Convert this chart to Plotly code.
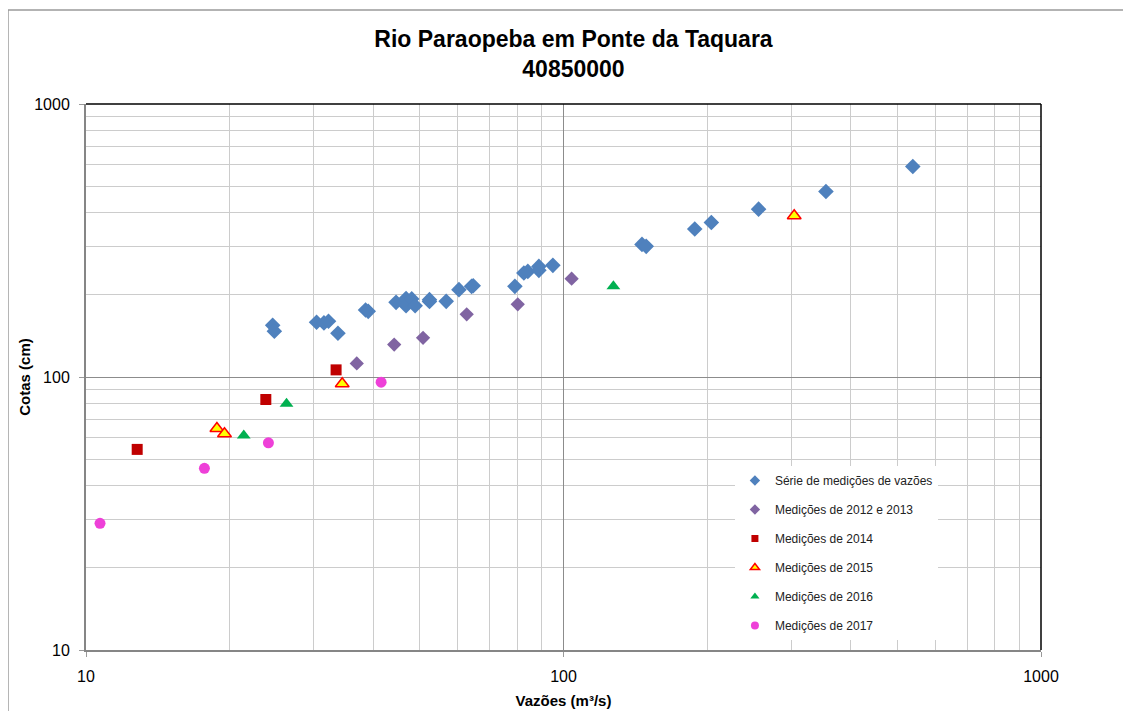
import plotly.graph_objects as go

# Série de medições de vazões
serie_q = [24.6, 24.8, 30.4, 31.5, 32.2, 33.7, 38.5, 39.0, 44.6, 46.8, 46.8, 48.1, 48.9,
           52.4, 52.4, 56.8, 60.4, 64.2, 64.7, 79.1, 82.6, 84.2, 88.8, 88.8, 95.0,
           146.0, 149.0, 188.3, 204.0, 256.2, 354.5, 538.9]
serie_h = [154.6, 147.1, 158.6, 157.8, 160.0, 144.6, 176.0, 174.0, 187.7, 194.0, 182.5, 193.2, 182.5,
           192.0, 189.0, 189.3, 208.9, 214.8, 216.0, 214.8, 240.4, 243.7, 254.2, 245.8, 256.4,
           306.0, 301.0, 348.3, 368.3, 412.0, 477.9, 590.0]

q_1213 = [36.9, 44.2, 50.8, 62.7, 80.2, 104.0]
h_1213 = [112.1, 131.5, 139.1, 169.7, 184.6, 229.2]

q_2014 = [12.8, 23.8, 33.4]
h_2014 = [54.3, 82.7, 106.2]

q_2015 = [18.8, 19.5, 34.4, 304.2]
h_2015 = [64.8, 62.0, 94.4, 389.5]

q_2016 = [21.4, 26.3, 127.2]
h_2016 = [61.1, 79.8, 214.8]

q_2017 = [10.7, 17.7, 24.1, 41.5]
h_2017 = [29.1, 46.3, 57.4, 95.7]

decades = [10, 100, 1000]
minor_vals = [m * d for d in [10, 100] for m in range(2, 10)]

FONT = 'Liberation Sans, Arial'

fig = go.Figure()


def add(q, h, name, symbol, color, size, lsize, line_color=None, grp=None):
    line = dict(color=line_color or color, width=1.5 if line_color else 0)
    # pontos
    fig.add_trace(go.Scatter(
        x=q, y=h, mode='markers', name=name, legendgroup=grp, showlegend=False,
        marker=dict(symbol=symbol, color=color, size=size, line=line)))
    # entrada da legenda com marcador menor
    fig.add_trace(go.Scatter(
        x=[None], y=[None], mode='markers', name=name, legendgroup=grp,
        marker=dict(symbol=symbol, color=color, size=lsize, line=line)))


add(serie_q, serie_h, 'Série de medições de vazões', 'diamond', '#4F81BD', 12, 8, grp='a')
add(q_1213, h_1213, 'Medições de 2012 e 2013', 'diamond', '#8064A2', 11, 8, grp='b')
add(q_2014, h_2014, 'Medições de 2014', 'square', '#C00000', 11, 7, grp='c')
add(q_2015, h_2015, 'Medições de 2015', 'triangle-up', '#FFFF00', 12, 8, line_color='#FF0000', grp='d')
add(q_2016, h_2016, 'Medições de 2016', 'triangle-up', '#00B050', 12, 8, grp='e')
add(q_2017, h_2017, 'Medições de 2017', 'circle', '#EE40D8', 11, 8, grp='f')

axis_common = dict(
    type='log',
    tickvals=decades, ticktext=[str(v) for v in decades],
    showgrid=True, gridcolor='#8c8c8c', gridwidth=1,
    minor=dict(tickvals=minor_vals, showgrid=True, gridcolor='#cccccc', gridwidth=1),
    showline=True, linecolor='#868686', linewidth=2,
    ticks='outside', ticklen=5, tickcolor='#9a9a9a',
    tickfont=dict(family=FONT, size=16, color='black'),
    ticklabelstandoff=6,
    zeroline=False,
)

fig.update_xaxes(axis_common, range=[1, 3],
                 title=dict(text='<b>Vazões (m³/s)</b>', standoff=11,
                            font=dict(family=FONT, size=15, color='black')))
fig.update_yaxes(axis_common, range=[1, 3],
                 title=dict(text='<b>Cotas (cm)</b>', standoff=0,
                            font=dict(family=FONT, size=15, color='black')))

fig.update_layout(
    width=1131, height=711,
    paper_bgcolor='white', plot_bgcolor='white',
    margin=dict(l=78, r=98, t=96, b=69),
    title=dict(text='<b>Rio Paraopeba em Ponte da Taquara<br>40850000</b>',
               x=0.5, xanchor='center', y=0.945, yanchor='top',
               font=dict(family=FONT, size=23, color='black')),
    legend=dict(x=0.6795, y=0.337, xanchor='left', yanchor='top',
                bgcolor='white', borderwidth=0, tracegroupgap=10,
                font=dict(family=FONT, size=12, color='#222222')),
    showlegend=True,
    shapes=[
        dict(type='rect', xref='paper', yref='paper', x0=-0.0817, x1=1.2, y0=-0.3, y1=1.172,
             line=dict(color='#9a9a9a', width=1.5), layer='below'),
        dict(type='line', xref='paper', yref='paper', x0=0, x1=1, y0=1, y1=1,
             line=dict(color='black', width=1.5)),
        dict(type='line', xref='paper', yref='paper', x0=1, x1=1, y0=0, y1=1,
             line=dict(color='black', width=1.5)),
    ],
)

fig.write_html("out.html")
